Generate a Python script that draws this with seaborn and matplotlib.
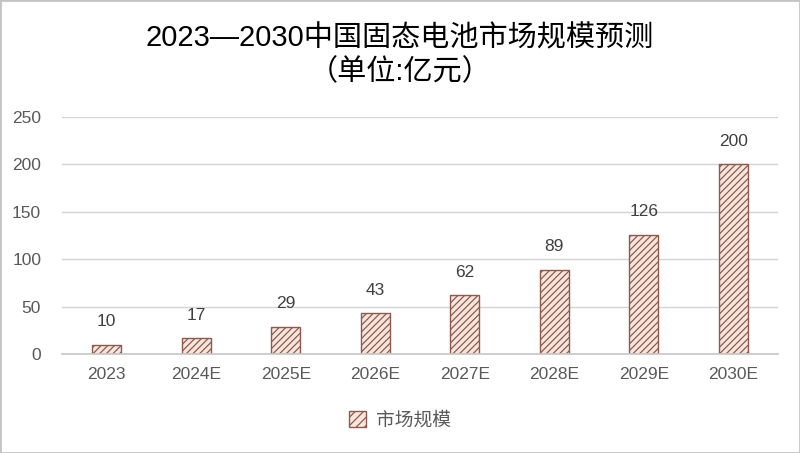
import matplotlib
matplotlib.use("Agg")
import matplotlib.pyplot as plt
import seaborn as sns
import pandas as pd
from matplotlib.patches import Patch, Rectangle

years = ["2023", "2024E", "2025E", "2026E", "2027E", "2028E", "2029E", "2030E"]
market = [10, 17, 29, 43, 62, 89, 126, 200]
series_name = "市场规模"
title_line1 = "2023—2030中国固态电池市场规模预测"
title_line2 = "（单位:亿元）"

sns.set_theme(style="white")
FAM = ['Liberation Sans', 'Noto Sans CJK SC', 'DejaVu Sans']
plt.rcParams['font.family'] = FAM
plt.rcParams['hatch.color'] = '#B48878'
plt.rcParams['hatch.linewidth'] = 0.9

df = pd.DataFrame({"year": years, "value": market})

fig = plt.figure(figsize=(8, 4.53), dpi=100)
ax = fig.add_axes([0.0775, 0.2185, 0.895, 0.5232])

sns.barplot(data=df, x="year", y="value", ax=ax, color="#F6E6DE",
            width=0.32, edgecolor="#8E5A4C", linewidth=1.0, saturation=1)
for p in ax.patches:
    p.set_hatch("/////")

for i, v in enumerate(market):
    ax.annotate(str(v), (i, v), xytext=(0, 11), textcoords="offset points",
                ha="center", va="bottom", fontsize=12.5, color="#404040")

ax.set_ylim(0, 250)
ax.set_yticks([0, 50, 100, 150, 200, 250])
ax.set_xlim(-0.5, len(years) - 0.5)
ax.yaxis.grid(True, color="#D4D4D4", linewidth=1.0)
ax.set_axisbelow(True)
for s in ["top", "right", "left"]:
    ax.spines[s].set_visible(False)
ax.spines["bottom"].set_color("#C8C8C8")
ax.tick_params(axis="both", length=0, labelsize=12.5, labelcolor="#595959")
ax.tick_params(axis="y", pad=15)
ax.tick_params(axis="x", pad=9)
ax.set_xlabel("")
ax.set_ylabel("")

fig.text(0.5, 1 - 38 / 453, title_line1, ha="center", va="center", fontsize=21, color="black")
fig.text(0.5, 1 - 72 / 453, title_line2, ha="center", va="center", fontsize=21, color="black")

handle = Patch(facecolor="#F6E6DE", edgecolor="#8E5A4C", hatch="////", linewidth=1.0)
fig.legend([handle], [series_name], loc="center", bbox_to_anchor=(0.5, 0.072),
           frameon=False, fontsize=13.5, handlelength=0.9, handleheight=0.9,
           handletextpad=0.5, labelcolor="#595959")

fig.patches.append(Rectangle((0, 0), 1, 1, transform=fig.transFigure, fill=False,
                             edgecolor="#C4C4C4", linewidth=2))

fig.savefig("out.png", dpi=100)
